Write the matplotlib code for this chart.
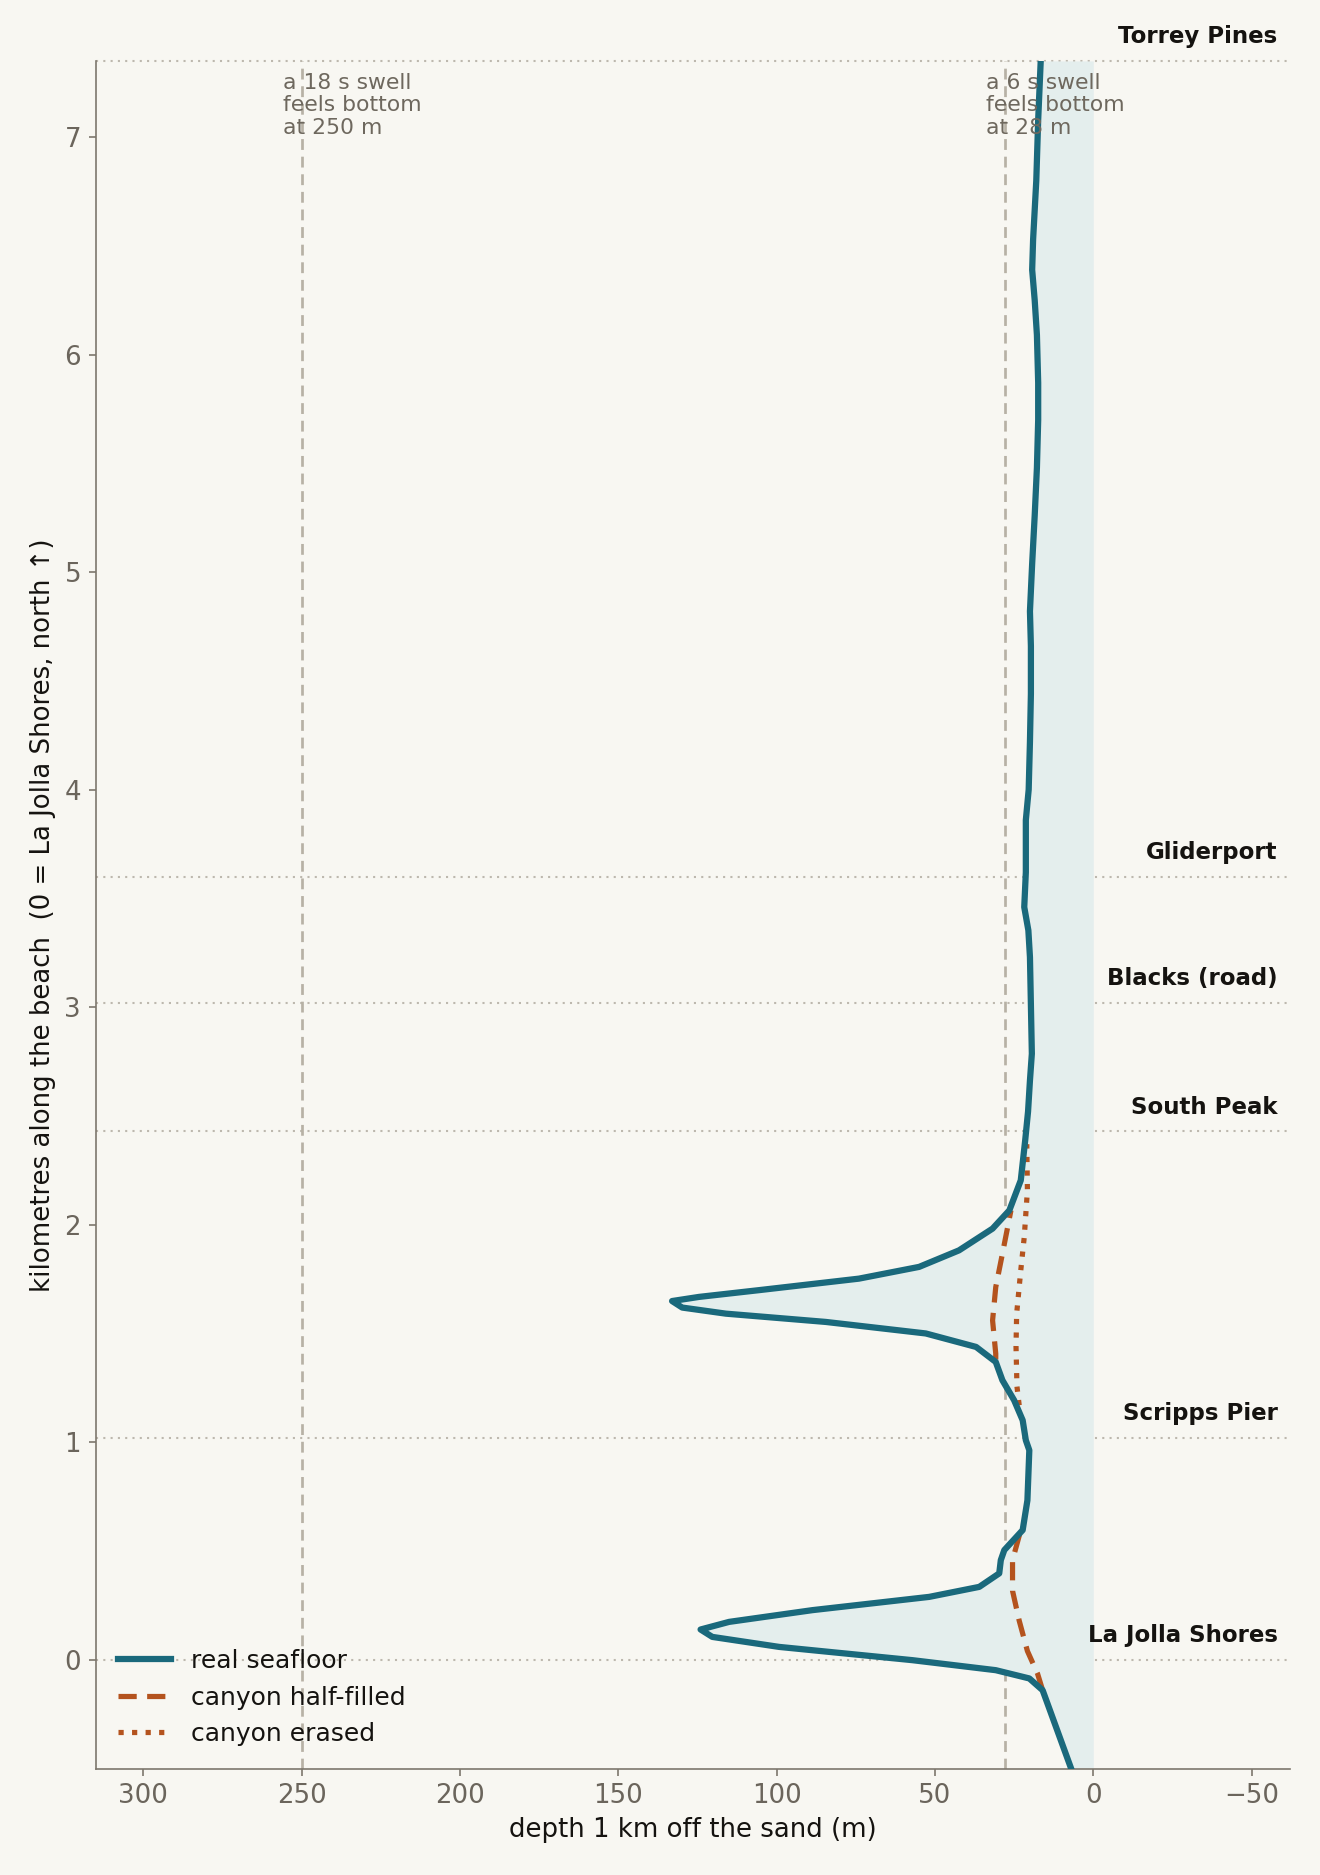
import numpy as np
import matplotlib.pyplot as plt

# along-beach position (km) and depth 1 km offshore (m)
seafloor_km = np.array([-0.5, -0.14, -0.086, -0.048, -0.002, 0.059, 0.105, 0.139, 0.174, 0.228,
                        0.289, 0.335, 0.397, 0.458, 0.504, 0.596, 0.733, 0.963, 1.009, 1.101,
                        1.193, 1.285, 1.369, 1.438, 1.50, 1.553, 1.591, 1.619, 1.649, 1.668,
                        1.699, 1.752, 1.806, 1.882, 1.982, 2.066, 2.204, 2.388, 2.52, 2.663,
                        2.786, 3.01, 3.23, 3.353, 3.46, 3.62, 3.86, 4.00, 4.22, 4.44,
                        4.66, 4.82, 5.04, 5.26, 5.48, 5.70, 5.87, 6.09, 6.25, 6.39,
                        6.53, 6.80, 7.08, 7.35])
seafloor_depth = np.array([7, 16, 20.2, 30.8, 57.1, 99.2, 120.3, 124, 115, 88.7,
                           51.8, 36, 29.7, 29.2, 28.1, 22.3, 20.8, 20.2, 21.3, 22.3,
                           25, 28.7, 30.8, 37, 52.9, 84.5, 116, 129.8, 133, 124.5,
                           105.6, 74, 55, 42.4, 31.8, 26.5, 22.9, 21.5, 20.6, 20,
                           19.4, 19.7, 20, 20.5, 21.8, 21.3, 21.3, 20.4, 20, 19.7,
                           19.7, 20, 19.3, 18.5, 17.8, 17.4, 17.4, 17.8, 18.5, 19.3,
                           19, 18, 17.4, 16.6])

half_km = np.array([-0.14, -0.064, 0.04, 0.18, 0.317, 0.458, 0.596, np.nan,
                    1.38, 1.407, 1.56, 1.713, 1.866, 2.066])
half_depth = np.array([16, 17.6, 20.8, 23.4, 25.5, 25.5, 22.9, np.nan,
                       30.8, 30.8, 31.8, 30.8, 28.7, 26])

erased_km = np.array([1.17, 1.256, 1.44, 1.59, 1.79, 1.943, 2.158, 2.37])
erased_depth = np.array([23.4, 24.1, 24.4, 24.2, 22.9, 21.8, 20.8, 21])

place_names = ['La Jolla Shores', 'Scripps Pier', 'South Peak', 'Blacks (road)',
               'Gliderport', 'Torrey Pines']
place_km = [0.0, 1.02, 2.43, 3.02, 3.60, 7.35]

swell_depth = [250, 28]
swell_text = ['a 18 s swell\nfeels bottom\nat 250 m', 'a 6 s swell\nfeels bottom\nat 28 m']

bg = '#f8f7f2'
teal = '#1a697c'
rust = '#b4531e'
grey = '#b7b1a5'
axis_grey = '#7d776d'

fig = plt.figure(figsize=(8.8, 12.5), dpi=150, facecolor=bg)
ax = fig.add_axes([0.0725, 0.0568, 0.9045, 0.9107], facecolor=bg)

ax.fill_betweenx(seafloor_km, seafloor_depth, 0, color='#e4eeed', lw=0, zorder=1)

for km in place_km:
    ax.axhline(km, color='#bdb8ae', ls=(0, (1, 2.5)), lw=1.0, zorder=0.5, clip_on=False)
for name, km in zip(place_names, place_km):
    ax.annotate(name, xy=(0.99, km), xycoords=('axes fraction', 'data'),
                xytext=(0, 6), textcoords='offset points', ha='right', va='bottom',
                fontsize=11, fontweight='bold', color='#151310', annotation_clip=False)

for d, t in zip(swell_depth, swell_text):
    ax.axvline(d, color=grey, ls=(0, (4, 2.5)), lw=1.3, zorder=0.8)
    ax.text(d + 6, 7.295, t, ha='left', va='top', fontsize=10.5, color='#6e685e',
            linespacing=1.15, zorder=4)

ax.plot(seafloor_depth, seafloor_km, color=teal, lw=3, label='real seafloor', zorder=3,
        solid_joinstyle='round')
ax.plot(half_depth, half_km, color=rust, lw=2.5, ls=(0, (3.5, 2)), label='canyon half-filled', zorder=2.5)
ax.plot(erased_depth, erased_km, color=rust, lw=2.5, ls=(0, (1, 1.6)), label='canyon erased', zorder=2.5)

ax.set_xlim(315, -62)
ax.set_ylim(-0.5, 7.35)
ax.set_xticks([300, 250, 200, 150, 100, 50, 0, -50])
ax.set_yticks(range(0, 8))

for s in ['top', 'right']:
    ax.spines[s].set_visible(False)
for s in ['left', 'bottom']:
    ax.spines[s].set_color(axis_grey)
ax.tick_params(colors=axis_grey, labelcolor='#6b655c', labelsize=12.5)

ax.set_xlabel('depth 1 km off the sand (m)', fontsize=12.5, color='#151310')
ax.set_ylabel('kilometres along the beach  (0 = La Jolla Shores, north \u2191)',
              fontsize=12.5, color='#151310')

leg = ax.legend(loc='lower left', frameon=False, fontsize=12, handlelength=2.1)
for txt in leg.get_texts():
    txt.set_color('#151310')

fig.savefig('out.png', dpi=150, facecolor=bg)
